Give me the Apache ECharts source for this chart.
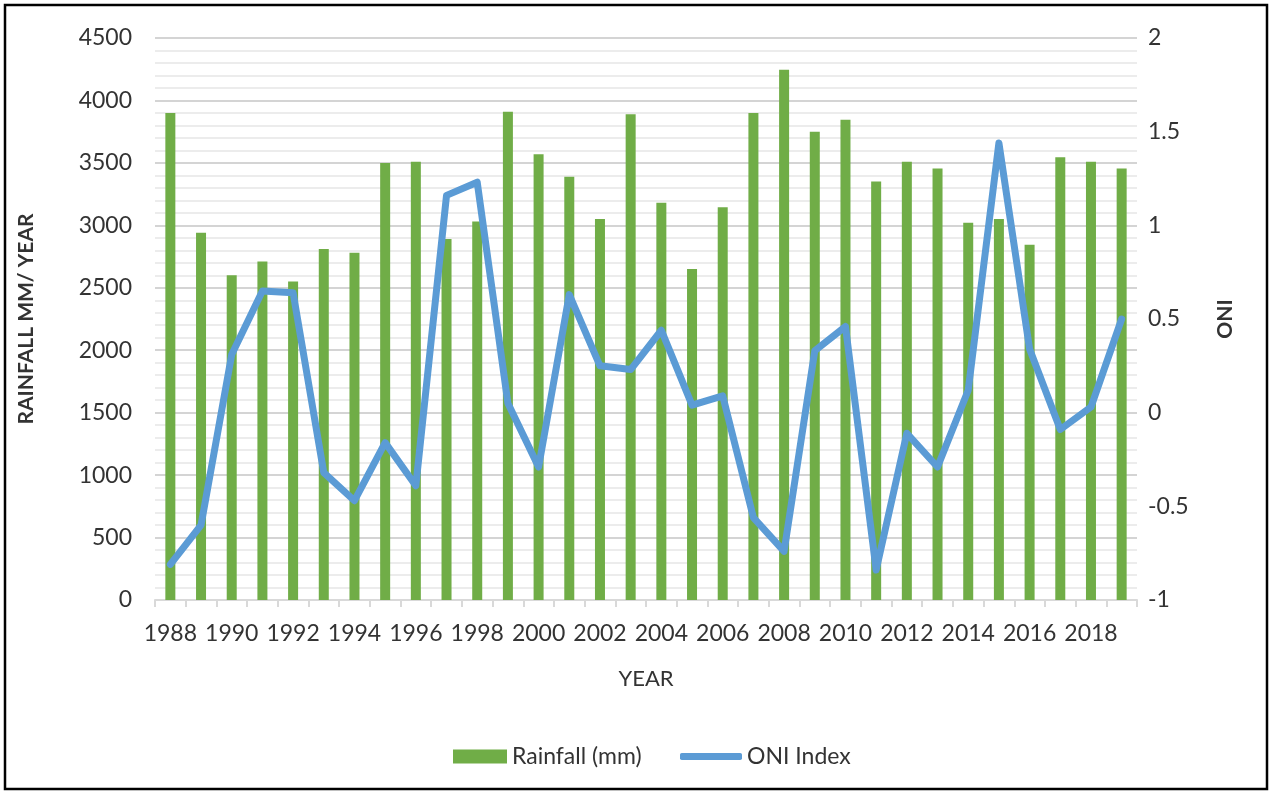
<!DOCTYPE html>
<html>
<head>
<meta charset="utf-8">
<script src="https://cdn.jsdelivr.net/npm/echarts@6/dist/echarts.min.js"></script>
<style>
  html, body { margin: 0; padding: 0; background: #fff; }
  #chart { width: 1272px; height: 793px; }
</style>
</head>
<body>
<div id="chart"></div>
<script>
// Annual rainfall (mm) and Oceanic Niño Index, 1988-2019
const years = [
  '1988','1989','1990','1991','1992','1993','1994','1995','1996','1997','1998',
  '1999','2000','2001','2002','2003','2004','2005','2006','2007','2008','2009',
  '2010','2011','2012','2013','2014','2015','2016','2017','2018','2019'
];
const rainfall = [
  3900, 2940, 2600, 2710, 2550, 2810, 2780, 3500, 3510, 2890, 3030,
  3910, 3570, 3390, 3050, 3890, 3180, 2650, 3145, 3900, 4245, 3750,
  3845, 3350, 3510, 3455, 3020, 3050, 2845, 3545, 3510, 3455
];
const oni = [
  -0.81, -0.60, 0.31, 0.65, 0.64, -0.32, -0.47, -0.16, -0.39, 1.16, 1.23,
  0.05, -0.29, 0.63, 0.25, 0.23, 0.44, 0.04, 0.09, -0.56, -0.74, 0.33,
  0.46, -0.84, -0.11, -0.29, 0.12, 1.44, 0.34, -0.09, 0.03, 0.50
];
const rainTicks = { min: 0, max: 4500, step: 500 };
const oniTicks = { min: -1, max: 2, step: 0.5 };

const FONT = 'Lato';
const TXT = '#333333';

const chart = echarts.init(document.getElementById('chart'), null, { renderer: 'canvas' });

chart.setOption({
  backgroundColor: '#ffffff',
  animation: false,
  textStyle: { fontFamily: FONT, color: TXT },
  grid: { left: 155, right: 135, top: 38, bottom: 193, containLabel: false },
  graphic: [{
    type: 'rect',
    shape: { x: 5, y: 5, width: 1262, height: 784 },
    style: { fill: 'none', stroke: '#000', lineWidth: 2.5 },
    silent: true
  }],
  legend: [{
    data: ['Rainfall (mm)'],
    left: 448, top: 740,
    itemWidth: 54, itemHeight: 14, itemGap: 8,
    textStyle: { fontFamily: FONT, fontSize: 23, color: TXT },
    icon: 'rect'
  }, {
    data: ['ONI Index'],
    left: 675, top: 740,
    itemWidth: 62, itemHeight: 7, itemGap: 2,
    textStyle: { fontFamily: FONT, fontSize: 23, color: TXT },
    icon: 'roundRect'
  }],
  xAxis: {
    type: 'category',
    data: years,
    name: 'YEAR',
    nameLocation: 'middle',
    nameGap: 68,
    nameTextStyle: { fontFamily: FONT, fontSize: 22, color: TXT },
    boundaryGap: true,
    axisLine: { lineStyle: { color: '#d9d9d9', width: 2 } },
    axisTick: { show: true, alignWithLabel: false, interval: 0, length: 7, lineStyle: { color: '#d9d9d9', width: 2 } },
    axisLabel: { interval: 1, margin: 22, fontFamily: FONT, fontSize: 23, color: TXT },
    splitLine: { show: false }
  },
  yAxis: [{
    type: 'value',
    min: rainTicks.min, max: rainTicks.max, interval: rainTicks.step,
    name: 'RAINFALL MM/ YEAR',
    nameLocation: 'middle',
    nameRotate: 90,
    nameGap: 118,
    nameTextStyle: { fontFamily: FONT, fontSize: 21, fontWeight: 'bold', color: TXT },
    axisLine: { show: false },
    axisTick: { show: false },
    axisLabel: { margin: 23, fontFamily: FONT, fontSize: 23, color: TXT, formatter: v => String(v) },
    splitLine: { show: true, lineStyle: { color: '#d4d4d4', width: 2 } },
    minorTick: { show: false, splitNumber: 5 },
    minorSplitLine: { show: true, lineStyle: { color: '#ececec', width: 2 } }
  }, {
    type: 'value',
    position: 'right',
    min: oniTicks.min, max: oniTicks.max, interval: oniTicks.step,
    name: 'ONI',
    nameLocation: 'middle',
    nameRotate: 90,
    nameGap: 78,
    nameTextStyle: { fontFamily: FONT, fontSize: 21, fontWeight: 'bold', color: TXT },
    axisLine: { show: false },
    axisTick: { show: false },
    axisLabel: { margin: 11, fontFamily: FONT, fontSize: 23, color: TXT },
    splitLine: { show: false }
  }],
  series: [{
    name: 'Rainfall (mm)',
    type: 'bar',
    data: rainfall,
    yAxisIndex: 0,
    barWidth: 10,
    itemStyle: { color: '#70AD47' }
  }, {
    name: 'ONI Index',
    type: 'line',
    data: oni,
    yAxisIndex: 1,
    symbol: 'none',
    lineStyle: { color: '#5B9BD5', width: 7, join: 'round', cap: 'round' },
    itemStyle: { color: '#5B9BD5' }
  }]
});
</script>
</body>
</html>
